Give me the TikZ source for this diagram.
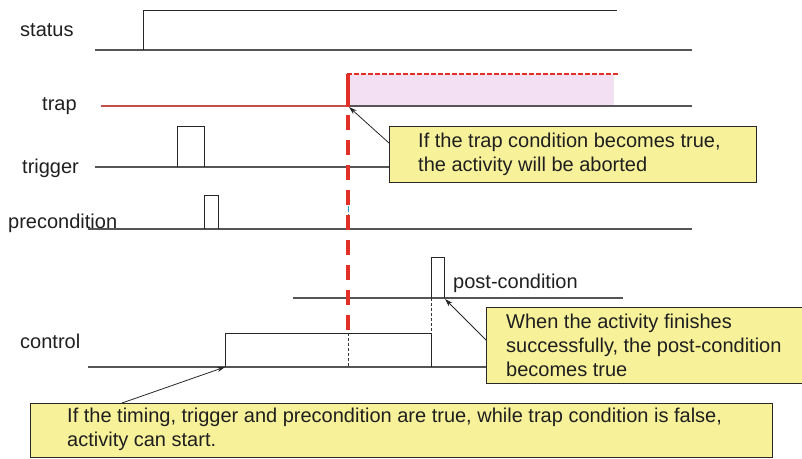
\documentclass[tikz,border=0pt]{standalone}
\usepackage{fontspec}
\setmainfont{Liberation Sans}
\usetikzlibrary{arrows.meta}
\definecolor{sigline}{RGB}{85,85,85}
\definecolor{traphi}{RGB}{192,80,77}
\definecolor{abortred}{RGB}{226,48,38}
\definecolor{trapfill}{RGB}{243,225,243}
\definecolor{notefill}{RGB}{247,242,154}
\definecolor{noteedge}{RGB}{40,40,40}
\tikzset{
  base/.style={draw=sigline, line width=1.4pt},
  pulse/.style={draw=black!85, line width=0.9pt},
  label/.style={anchor=base west, inner sep=0pt, font=\fontsize{20}{24}\selectfont, text=black!88},
  note/.style={draw=noteedge, fill=notefill, line width=1pt, anchor=north west, inner sep=0pt},
  notetext/.style={anchor=west, inner sep=0pt, align=left, font=\fontsize{20}{24}\selectfont, text=black!88},
  pointer/.style={draw=black!85, line width=0.8pt, -{Stealth[length=8pt,width=5pt]}},
  guide/.style={draw=black!80, line width=0.7pt, dash pattern=on 3pt off 2pt},
}
\begin{document}
\begin{tikzpicture}[x=1pt,y=-1pt]
\useasboundingbox (0,0) rectangle (802,458);

% signal names
\node[label] (lstatus) at (20,36) {status};
\node[label] (ltrap) at (42,110) {trap};
\node[label] (ltrigger) at (22,173) {trigger};
\node[label] (lpre) at (8,228) {precondition};
\node[label] (lpost) at (453,288) {post-condition};
\node[label] (lcontrol) at (20,348) {control};

% status
\draw[base] (95,50) -- (692,50);
\draw[pulse] (143,50) -- (143,10) -- (617,10);

% trap: low until the abort point, then high (shaded)
\fill[trapfill, draw=trapfill!85!black!40] (347,74) rectangle (613,106);
\draw[base] (347,106) -- (692,106);
\draw[draw=traphi, line width=1.4pt] (101,106) -- (347,106);
\draw[abortred, line width=1.5pt, dash pattern=on 5pt off 2pt] (347,74) -- (620,74);

% trigger
\draw[base] (95,167) -- (389,167);
\draw[pulse] (177,167) -- (177,126) -- (204,126) -- (204,167);

% precondition
\draw[base] (88,229) -- (692,229);
\draw[pulse] (204,229) -- (204,195) -- (218,195) -- (218,229);
\draw[cyan!70!teal, line width=0.7pt, dash pattern=on 6pt off 2pt on 1pt off 2pt] (348,195) -- (348,229);

% post-condition
\draw[base] (293,298) -- (623,298);
\draw[pulse] (431,298) -- (431,257) -- (444,257) -- (444,298);

% control
\draw[base] (88,367) -- (486,367);
\draw[pulse] (225,367) -- (225,333) -- (431,333) -- (431,367);

% guides
\draw[guide] (348,333) -- (348,367);
\draw[guide] (431,298) -- (431,333);

% abort marker
\draw[abortred, line width=4pt] (348,74) -- (348,107);
\draw[abortred, line width=4pt, dash pattern=on 15pt off 10pt] (348,115) -- (348,333);

% notes
\node[note, minimum width=367pt, minimum height=56pt] (trapnote) at (389,126) {};
\node[notetext] (traptext) at ([xshift=29pt]trapnote.west)
  {If the trap condition becomes true,\\the activity will be aborted};

\node[note, minimum width=318pt, minimum height=76pt] (postnote) at (486,307) {};
\node[notetext] (posttext) at ([xshift=20pt]postnote.west)
  {When the activity finishes\\successfully, the post-condition\\becomes true};

\node[note, minimum width=742pt, minimum height=54pt] (startnote) at (30,403) {};
\node[notetext] (starttext) at ([xshift=37pt,yshift=1pt]startnote.west)
  {If the timing, trigger and precondition are true, while trap condition is false,\\activity can start.};

% pointers
\coordinate (trapcorner) at (349,107);
\coordinate (postfall) at (445,299);
\coordinate (ctrlrise) at (225,367);
\draw[pointer] ([yshift=-17pt]trapnote.north west) -- (trapcorner);
\draw[pointer] ([yshift=-33pt]postnote.north west) -- (postfall);
\draw[pointer] ([xshift=92pt]startnote.north west) -- (ctrlrise);
\end{tikzpicture}
\end{document}
